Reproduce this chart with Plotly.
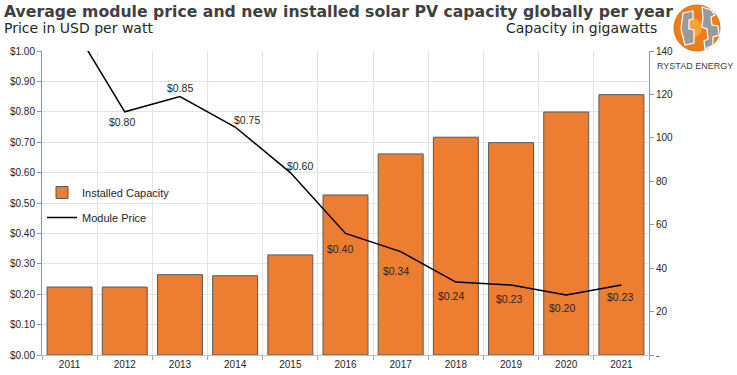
import plotly.graph_objects as go

years = ["2011", "2012", "2013", "2014", "2015", "2016", "2017", "2018", "2019", "2020", "2021"]
capacity_gw = [31.3, 31.3, 37.0, 36.5, 46.1, 73.7, 92.6, 100.3, 97.8, 111.9, 119.9]
price_usd = [1.10, 0.80, 0.85, 0.75, 0.60, 0.40, 0.34, 0.24, 0.23, 0.197, 0.23]
# label offsets (pixels) relative to each price point
label_dx = [0, -3, 0, 12, 10, -6, -5, -5, -2, -4, -1]
label_dy = [0, -10, 9, 7, 7, -16, -19, -14, -14, -13, -12]
cap_tickvals = [0, 20, 40, 60, 80, 100, 120, 140]
cap_ticktext = ["-", "20", "40", "60", "80", "100", "120", "140"]

W, H = 737, 375
L, R, T, B = 42, 649, 51, 355  # plot area in pixels


def px(x):
    return (x - L) / (R - L)


def py(y):
    return (B - y) / (B - T)


fig = go.Figure()
fig.add_trace(go.Bar(
    x=years, y=capacity_gw, name="Installed Capacity", legendgroup="a",
    marker=dict(color="#ED7D31", line=dict(color="#595959", width=1)),
    yaxis="y", hoverinfo="skip",
))
fig.add_trace(go.Scatter(
    x=years, y=price_usd, name="Module Price", mode="lines", legendgroup="b",
    line=dict(color="#000000", width=1.5),
    yaxis="y2", hoverinfo="skip",
))

axis_col = "#8497B0"
tick_font = dict(family="Liberation Sans, Arial", size=10, color="#262626")
fig.update_layout(
    width=W, height=H,
    margin=dict(l=L, r=W - R, t=T, b=H - B, pad=0, autoexpand=False),
    paper_bgcolor="white", plot_bgcolor="white",
    bargap=0.185,
    showlegend=True,
    legend=dict(x=0.0, y=py(178), xanchor="left", yanchor="top",
                bgcolor="rgba(0,0,0,0)", tracegroupgap=6, itemwidth=30,
                font=dict(family="Liberation Sans, Arial", size=11, color="#262626")),
    xaxis=dict(type="category", range=[-0.5, 10.5], tickson="boundaries",
               showgrid=True, gridcolor="#E3E3E3", gridwidth=1,
               ticks="outside", ticklen=4, tickcolor="#A6A6A6",
               showline=True, linecolor="#BFBFBF", linewidth=1,
               tickfont=tick_font, automargin=False, fixedrange=True),
    yaxis=dict(side="right", range=[0, 140], tickvals=cap_tickvals, ticktext=cap_ticktext,
               showgrid=False, zeroline=False,
               minor=dict(dtick=14, tick0=0, showgrid=True, gridcolor="#E3E3E3", gridwidth=1, ticks=""),
               showline=True, linecolor=axis_col, linewidth=1,
               ticks="outside", ticklen=4, tickcolor=axis_col,
               tickfont=tick_font, automargin=False, fixedrange=True),
    yaxis2=dict(side="left", overlaying="y", range=[0, 1.0], dtick=0.1, tick0=0,
                tickformat="$.2f", showgrid=False, zeroline=False,
                showline=True, linecolor=axis_col, linewidth=1,
                ticks="outside", ticklen=4, tickcolor=axis_col,
                tickfont=tick_font, automargin=False, fixedrange=True),
)

annotations = [
    dict(text="<b>Average module price and new installed solar PV capacity globally per year</b>",
         x=px(2), y=py(11), xanchor="left", yanchor="middle",
         font=dict(family="DejaVu Sans, Verdana", size=15.7, color="#404040")),
    dict(text="Price in USD per watt", x=px(2), y=py(28), xanchor="left", yanchor="middle",
         font=dict(family="DejaVu Sans, Verdana", size=14, color="#262626")),
    dict(text="Capacity in gigawatts", x=px(659), y=py(28), xanchor="right", yanchor="middle",
         font=dict(family="DejaVu Sans, Verdana", size=14, color="#262626")),
    dict(text="RYSTAD ENERGY", x=px(695), y=py(66), xanchor="center", yanchor="middle",
         font=dict(family="Liberation Sans, Arial", size=9, color="#404040")),
]
for a in annotations:
    a.update(xref="paper", yref="paper", showarrow=False)

# data labels for the price line (x given as category index)
for i, (p, dx, dy) in enumerate(zip(price_usd, label_dx, label_dy)):
    if p > 1.0:
        continue
    annotations.append(dict(
        x=i, y=p, xref="x", yref="y2", text="$%.2f" % p, showarrow=False,
        xshift=dx, yshift=dy, xanchor="center", yanchor="middle",
        font=dict(family="Liberation Sans, Arial", size=10.5, color="#262626")))
fig.update_layout(annotations=annotations)

# logo: orange globe with grey pieces
cx, cy, r = 697, 28, 23
shapes = [
    dict(type="circle", x0=px(cx - r), x1=px(cx + r), y0=py(cy + r), y1=py(cy - r),
         fillcolor="#EF7D1A", line=dict(color="#E06A10", width=1)),
    dict(type="circle", x0=px(cx - 15), x1=px(cx + 5), y0=py(cy + 10), y1=py(cy - 10),
         fillcolor="#F7A33A", line=dict(width=0)),
]
grey_polys = [
    [(683, 13), (693, 11), (693, 19), (689, 20), (689, 29), (694, 30), (694, 43), (685, 45), (683, 37), (681, 29), (682, 21)],
    [(702, 7), (711, 10), (715, 15), (711, 17), (712, 25), (718, 26), (719, 35), (713, 37), (713, 45), (705, 49), (704, 41), (708, 39), (707, 29), (702, 27), (703, 17)],
]
for poly in grey_polys:
    path = "M " + " L ".join("%.4f,%.4f" % (px(x), py(y)) for x, y in poly) + " Z"
    shapes.append(dict(type="path", path=path, fillcolor="#9A9A9A",
                       line=dict(color="white", width=1.2)))
for s in shapes:
    s.update(xref="paper", yref="paper", layer="above")
fig.update_layout(shapes=shapes)

fig.write_html("out.html", config={"displayModeBar": False},
               post_script="document.body.style.margin='0';document.body.style.padding='0';")
